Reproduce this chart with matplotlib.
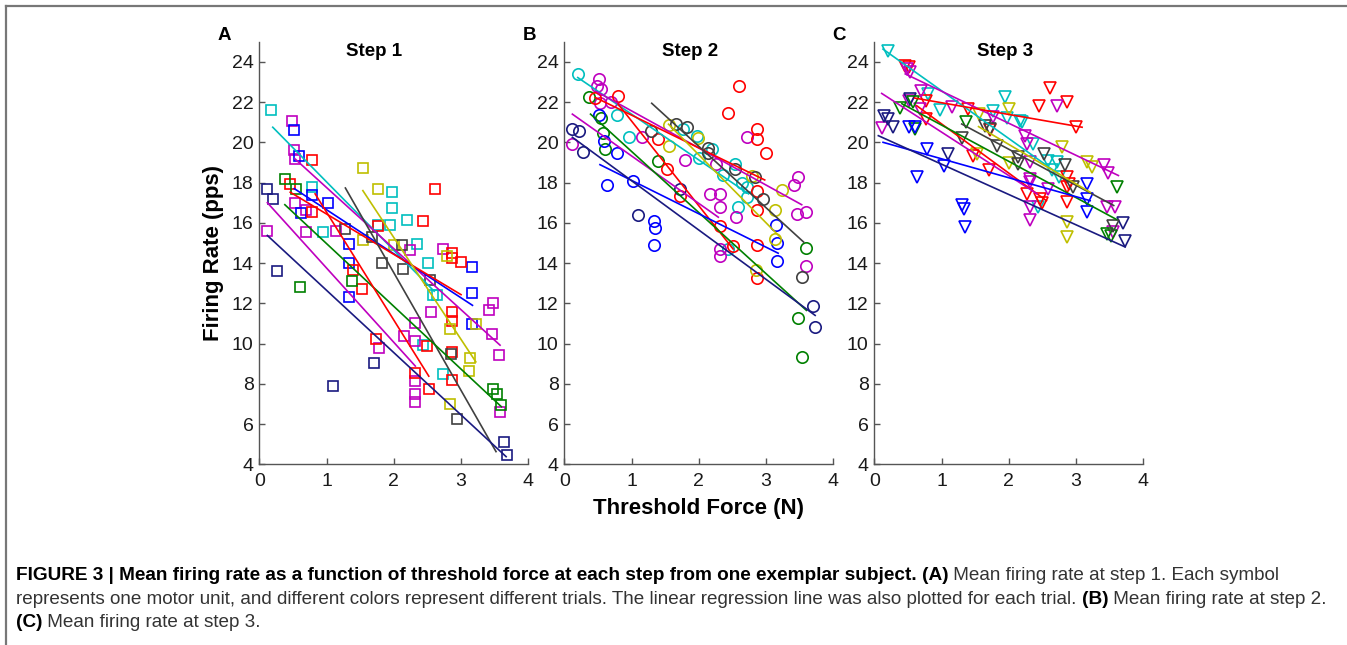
import matplotlib
matplotlib.use("Agg")
import matplotlib.pyplot as plt
from matplotlib.lines import Line2D

plt.rcParams['font.family'] = ['Liberation Sans', 'DejaVu Sans']

# MATLAB-like trial colours
COL = {
    'blue': (0, 0, 1),
    'navy': (0.1, 0.1, 0.5),
    'green': (0, 0.5, 0),
    'red': (1, 0, 0),
    'cyan': (0, 0.75, 0.75),
    'magenta': (0.75, 0, 0.75),
    'yellow': (0.75, 0.75, 0),
    'gray': (0.25, 0.25, 0.25),
}

# ---------------- Step 1 (squares) ----------------
s1_colors = ['cyan', 'magenta', 'blue', 'red', 'green', 'navy', 'yellow', 'gray']
s1_x = [
    [0.18, 0.79, 0.95, 1.98, 1.98, 2.2, 1.77, 1.95, 2.35, 2.51, 2.58, 2.64, 2.43, 2.73],
    [0.49, 0.52, 0.53, 0.53, 0.69, 0.12, 0.69, 1.14, 2.24, 2.73, 2.56, 2.32, 2.15, 2.32, 1.78, 2.32, 2.32, 2.32, 3.41, 3.47, 3.46, 3.57, 3.58],
    [0.52, 0.59, 0.78, 1.02, 0.62, 1.33, 1.34, 1.34, 3.16, 3.17, 3.17],
    [0.79, 0.45, 0.79, 1.77, 2.61, 2.43, 2.86, 2.86, 3.0, 1.39, 1.52, 2.86, 2.86, 2.49, 1.73, 2.32, 2.52, 2.86, 2.86],
    [0.38, 0.55, 0.6, 1.38, 3.47, 3.53, 3.59],
    [0.12, 0.21, 0.27, 1.09, 1.71, 3.64, 3.68],
    [1.54, 1.76, 1.54, 2.0, 2.79, 2.84, 3.22, 2.84, 3.14, 3.12],
    [1.28, 1.67, 2.12, 1.82, 2.13, 2.54, 2.85, 2.94],
]
s1_y = [
    [21.6, 17.77, 15.52, 17.55, 16.74, 16.15, 15.87, 15.9, 14.95, 14.0, 12.4, 12.4, 9.92, 8.48],
    [21.08, 19.6, 19.17, 17.0, 16.65, 15.57, 15.52, 15.58, 14.67, 14.7, 11.57, 11.02, 10.36, 10.13, 9.8, 8.15, 7.48, 7.09, 11.65, 12.0, 10.46, 9.45, 6.6],
    [20.6, 19.34, 17.4, 17.0, 16.48, 14.93, 14.0, 12.32, 13.8, 12.5, 10.96],
    [19.14, 17.95, 16.53, 15.85, 17.68, 16.09, 14.5, 14.23, 14.05, 13.64, 12.73, 11.57, 11.12, 9.87, 10.22, 8.55, 7.72, 9.58, 8.21],
    [18.2, 17.66, 12.8, 13.1, 7.72, 7.48, 6.94],
    [17.7, 17.2, 13.6, 7.88, 9.04, 5.12, 4.46],
    [18.71, 17.68, 15.17, 14.9, 14.33, 10.71, 10.96, 6.98, 9.3, 8.64],
    [15.67, 15.3, 14.92, 14.0, 13.72, 13.17, 9.47, 6.23],
]
# regression lines: colour, x start, x end, y start, y end
s1_fit_col = ['cyan', 'magenta', 'blue', 'red', 'yellow', 'gray', 'green', 'red', 'magenta', 'navy']
s1_fit_x0 = [0.2, 0.53, 0.52, 0.46, 1.54, 1.28, 0.38, 0.83, 0.12, 0.12]
s1_fit_x1 = [2.6, 3.58, 3.17, 3.0, 3.22, 3.52, 3.6, 2.52, 2.32, 3.67]
s1_fit_y0 = [20.75, 19.18, 17.7, 17.52, 17.6, 17.73, 16.9, 17.44, 17.0, 15.37]
s1_fit_y1 = [12.6, 9.92, 11.9, 12.43, 9.09, 4.63, 6.86, 8.38, 8.88, 4.38]

# ---------------- Step 2 (circles) ----------------
s2_colors = ['cyan', 'magenta', 'green', 'red', 'blue', 'navy', 'yellow', 'gray']
s2_x = [
    [0.2, 0.79, 0.96, 1.76, 1.97, 2.0, 2.2, 2.36, 2.54, 2.64, 2.72, 2.72, 2.58, 2.44],
    [0.52, 0.48, 0.54, 0.53, 0.7, 0.12, 1.15, 1.79, 2.26, 2.16, 2.32, 2.32, 2.56, 2.72, 3.41, 3.47, 3.46, 3.59, 3.59, 2.32, 2.32],
    [0.37, 0.54, 0.58, 0.61, 1.39, 3.6, 3.47, 3.53],
    [0.46, 0.8, 1.4, 1.52, 1.72, 2.44, 2.6, 2.86, 2.86, 3.0, 2.86, 2.86, 2.86, 2.32, 2.51, 2.86],
    [0.52, 0.59, 0.78, 0.63, 1.02, 1.33, 1.35, 1.34, 3.15, 3.17, 3.17],
    [0.12, 0.22, 0.28, 1.1, 1.72, 3.7, 3.73],
    [1.55, 1.55, 1.99, 2.79, 3.23, 3.13, 3.13, 2.85],
    [1.29, 1.66, 1.83, 2.14, 2.13, 2.54, 2.84, 2.95, 3.53],
]
s2_y = [
    [23.39, 21.37, 20.25, 20.66, 20.3, 19.22, 19.68, 18.4, 18.9, 17.98, 17.77, 17.27, 16.78, 14.68],
    [23.17, 22.78, 22.65, 21.94, 21.99, 19.92, 20.25, 19.12, 18.9, 17.44, 17.44, 16.78, 16.3, 20.28, 17.89, 18.26, 16.44, 16.54, 13.84, 14.68, 14.35],
    [22.27, 21.21, 20.46, 19.67, 19.09, 14.77, 11.29, 9.34],
    [22.19, 22.3, 20.17, 18.68, 17.32, 21.47, 22.78, 20.66, 20.17, 19.47, 17.57, 16.66, 14.9, 15.82, 14.85, 13.27],
    [21.38, 20.08, 19.46, 17.9, 18.1, 16.11, 15.73, 14.91, 15.9, 14.99, 14.11],
    [20.66, 20.58, 19.5, 16.39, 17.68, 11.89, 10.82],
    [20.88, 19.8, 20.2, 18.31, 17.63, 16.65, 15.2, 13.67],
    [20.58, 20.91, 20.78, 19.72, 19.47, 18.68, 18.26, 17.19, 13.33],
]
s2_fit_col = ['cyan', 'magenta', 'red', 'gray', 'red', 'yellow', 'magenta', 'green', 'blue', 'navy']
s2_fit_x0 = [0.2, 0.48, 0.46, 1.3, 0.8, 1.55, 0.12, 0.39, 0.53, 0.12]
s2_fit_x1 = [2.74, 3.53, 2.98, 3.56, 2.51, 3.21, 2.29, 3.6, 3.18, 3.73]
s2_fit_y0 = [23.22, 22.52, 22.23, 21.94, 21.9, 20.9, 21.4, 21.4, 18.89, 20.25]
s2_fit_y1 = [17.44, 16.9, 18.13, 15.04, 14.7, 15.29, 16.28, 11.65, 14.49, 11.4]

# ---------------- Step 3 (triangles) ----------------
s3_colors = ['cyan', 'red', 'magenta', 'navy', 'green', 'blue', 'yellow', 'gray']
s3_x = [
    [0.2, 0.8, 0.97, 1.77, 1.95, 1.97, 2.17, 2.19, 2.36, 2.59, 2.71, 2.64, 2.74, 2.44],
    [0.46, 0.51, 0.77, 0.77, 1.4, 1.72, 1.47, 1.7, 2.27, 2.46, 2.5, 2.86, 2.89, 2.86, 2.86, 2.45, 2.61, 2.86, 3.0],
    [0.49, 0.53, 0.7, 0.52, 0.68, 1.15, 0.11, 1.76, 2.24, 2.27, 2.32, 2.32, 2.32, 2.31, 2.32, 2.59, 2.72, 3.41, 3.48, 3.46, 3.58, 3.55],
    [0.53, 0.14, 0.21, 0.28, 1.09, 3.7, 3.73],
    [0.57, 0.38, 0.6, 1.37, 3.61, 3.46, 3.52],
    [0.51, 0.6, 0.63, 0.79, 1.03, 1.31, 1.33, 1.35, 3.16, 3.16, 3.16],
    [1.55, 2.0, 1.52, 2.0, 2.79, 2.86, 2.86, 3.16, 3.23],
    [1.3, 1.65, 1.72, 1.82, 2.14, 2.14, 2.52, 2.84, 2.96, 3.55],
]
s3_y = [
    [24.52, 22.4, 21.6, 21.57, 22.23, 21.2, 21.07, 21.0, 19.9, 19.09, 19.0, 18.6, 18.27, 16.77],
    [23.8, 23.72, 22.07, 21.17, 21.65, 20.59, 19.34, 18.6, 17.45, 17.16, 16.98, 18.27, 17.94, 17.77, 17.03, 21.8, 22.72, 21.99, 20.75],
    [23.64, 23.47, 22.57, 22.07, 21.65, 21.74, 20.71, 21.25, 20.33, 19.92, 19.01, 18.18, 18.02, 16.77, 16.15, 17.69, 21.8, 18.88, 18.5, 16.77, 16.77, 15.56],
    [22.15, 21.33, 21.17, 20.75, 19.42, 15.98, 15.12],
    [21.99, 21.7, 20.67, 21.0, 17.77, 15.45, 15.32],
    [20.75, 20.75, 18.26, 19.67, 18.84, 16.87, 16.7, 15.79, 17.94, 17.2, 16.54],
    [21.4, 21.66, 19.42, 18.96, 19.76, 16.03, 15.29, 19.0, 18.76],
    [20.21, 20.83, 20.67, 19.84, 19.29, 18.93, 19.42, 18.85, 17.77, 15.86],
]
s3_fit_col = ['cyan', 'magenta', 'red', 'red', 'magenta', 'gray', 'green', 'yellow', 'blue', 'navy']
s3_fit_x0 = [0.13, 0.46, 0.6, 0.63, 0.11, 1.3, 0.41, 1.55, 0.13, 0.06]
s3_fit_x1 = [2.74, 3.63, 3.09, 2.56, 2.42, 3.56, 3.6, 3.21, 3.21, 3.73]
s3_fit_y0 = [24.63, 23.4, 22.2, 21.82, 22.43, 20.91, 21.92, 20.78, 20.0, 20.33]
s3_fit_y1 = [18.43, 18.35, 20.75, 17.1, 17.44, 16.86, 16.17, 17.52, 17.1, 14.8]

panels = [
    ('A', 'Step 1', 's', 7.4, 0.426, s1_colors, s1_x, s1_y, s1_fit_col, s1_fit_x0, s1_fit_x1, s1_fit_y0, s1_fit_y1),
    ('B', 'Step 2', 'o', 8.2, 0.467, s2_colors, s2_x, s2_y, s2_fit_col, s2_fit_x0, s2_fit_x1, s2_fit_y0, s2_fit_y1),
    ('C', 'Step 3', 'v', 8.7, 0.486, s3_colors, s3_x, s3_y, s3_fit_col, s3_fit_x0, s3_fit_x1, s3_fit_y0, s3_fit_y1),
]

W, H = 1347, 645
fig = plt.figure(figsize=(W / 100, H / 100), dpi=100)

lefts = [259.3, 564.3, 874.3]
ax_w, ax_top, ax_bot = 269.0, 41.7, 464.3

for (letter, title, mk, ms, tx, cols, xs, ys, fcol, fx0, fx1, fy0, fy1), left in zip(panels, lefts):
    ax = fig.add_axes([left / W, 1 - ax_bot / H, ax_w / W, (ax_bot - ax_top) / H])
    for c, x, y in zip(cols, xs, ys):
        ax.plot(x, y, linestyle='none', marker=mk, markersize=ms, markerfacecolor='none',
                markeredgecolor=COL[c], markeredgewidth=1.2)
    for c, a, b, p, q in zip(fcol, fx0, fx1, fy0, fy1):
        ax.plot([a, b], [p, q], color=COL[c], linewidth=1.2)
    ax.set_xlim(0, 4)
    ax.set_ylim(4, 25)
    ax.set_xticks([0, 1, 2, 3, 4])
    ax.set_yticks(range(4, 25, 2))
    for s in ['top', 'right']:
        ax.spines[s].set_visible(False)
    for s in ['left', 'bottom']:
        ax.spines[s].set_color('#555555')
        ax.spines[s].set_linewidth(1.0)
    ax.tick_params(direction='in', length=4, width=1.0, color='#555555', labelsize=14,
                   labelcolor='#1a1a1a')
    ax.tick_params(axis='x', pad=6)
    ax.tick_params(axis='y', pad=4)
    ax.text(tx, 0.976, title, transform=ax.transAxes, ha='center', va='center',
            fontsize=13.5, fontweight='bold')
    ax.text(-0.13, 1.015, letter, transform=ax.transAxes, ha='center', va='center',
            fontsize=13.5, fontweight='bold')
    if letter == 'A':
        ax.set_ylabel('Firing Rate (pps)', fontsize=16, fontweight='bold', labelpad=6)
    if letter == 'B':
        ax.set_xlabel('Threshold Force (N)', fontsize=16, fontweight='bold', labelpad=6)

# thin frame round the figure (top and left edges)
fig.add_artist(Line2D([6 / W, 1], [1 - 5.8 / H, 1 - 5.8 / H], color='#777777', linewidth=1.6))
fig.add_artist(Line2D([6.5 / W, 6.5 / W], [0, 1 - 5.8 / H], color='#777777', linewidth=1.6))

# caption with mixed bold / regular runs
caption = [
    [("FIGURE 3 | Mean firing rate as a function of threshold force at each step from one exemplar subject. ", True),
     ("(A)", True), (" Mean firing rate at step 1. Each symbol", False)],
    [("represents one motor unit, and different colors represent different trials. The linear regression line was also plotted for each trial. ", False),
     ("(B)", True), (" Mean firing rate at step 2.", False)],
    [("(C)", True), (" Mean firing rate at step 3.", False)],
]
baselines = [580, 603.5, 627]
renderer = fig.canvas.get_renderer()
for runs, yb in zip(caption, baselines):
    x = 16.0
    for txt, bold in runs:
        t = fig.text(x / W, 1 - yb / H, txt, fontsize=13.7 if bold else 13.55,
                     va='baseline', ha='left',
                     fontweight='bold' if bold else 'normal',
                     color='black' if bold else '#333333')
        x += t.get_window_extent(renderer).width

fig.savefig('out.png', dpi=100)
